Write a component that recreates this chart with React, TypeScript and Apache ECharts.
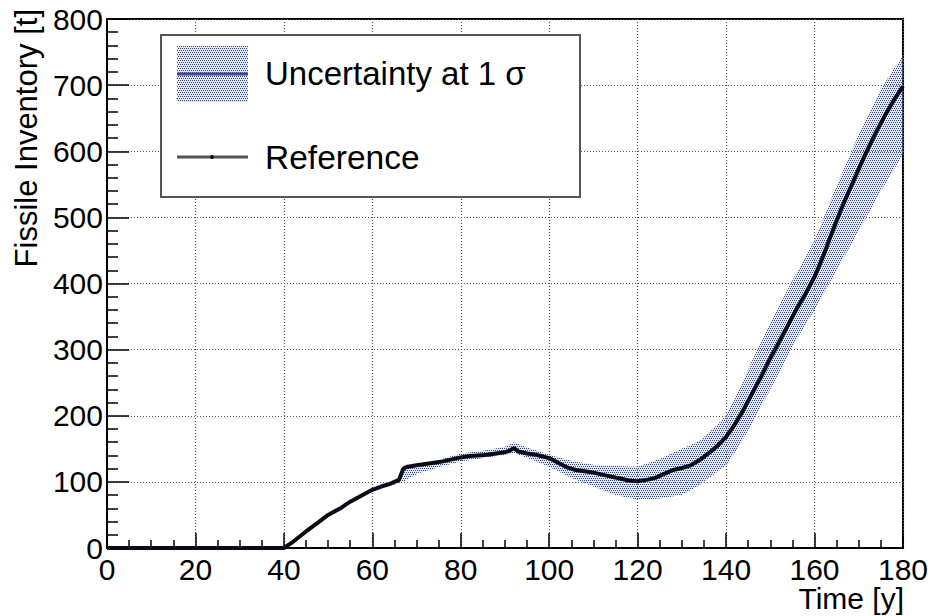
import React, { useEffect, useRef } from "react";
import * as echarts from "echarts";

// Reference curve (time in years, fissile inventory in tonnes)
const refTime = [0, 40, 42, 45, 48, 50, 53, 55, 58, 60, 62, 64, 65, 66, 67, 68, 70, 72, 74, 76, 78, 80, 82, 84, 86, 88, 90, 91, 92, 93, 95, 97, 100, 102, 104, 106, 108, 110, 112, 114, 116, 118, 120, 122, 124, 126, 128, 130, 132, 134, 136, 138, 140, 142, 144, 146, 148, 150, 152, 154, 156, 158, 160, 162, 164, 166, 168, 170, 172, 174, 176, 178, 180];
const refValue = [0, 0, 9, 25, 40, 50, 61, 70, 81, 88, 93, 97, 100, 103, 120, 123, 125, 127, 129, 131, 134, 137, 139, 140, 141, 143, 145, 147, 151, 146, 143, 141, 136, 129, 122, 118, 116, 114, 111, 108, 105, 102, 101, 103, 106, 112, 118, 121, 125, 133, 143, 154, 168, 187, 210, 235, 260, 287, 312, 337, 362, 385, 410, 442, 478, 512, 543, 573, 603, 630, 655, 678, 698];

// Uncertainty band at 1 sigma
const bandTime = [63, 65, 66, 67, 68, 70, 75, 80, 85, 90, 92, 95, 100, 105, 110, 115, 120, 125, 130, 134, 137, 140, 143, 146, 150, 155, 160, 165, 170, 175, 180];
const bandLow = [93, 96, 98, 100, 104, 112, 122, 131, 136, 141, 144, 136, 123, 106, 93, 80, 73, 75, 80, 95, 110, 125, 155, 190, 240, 305, 360, 420, 480, 540, 595];
const bandHigh = [96, 101, 104, 121, 124, 127, 133, 143, 147, 153, 160, 152, 141, 132, 126, 124, 123, 135, 150, 162, 180, 200, 240, 285, 340, 405, 465, 548, 625, 695, 745];

const xTicks = [0, 20, 40, 60, 80, 100, 120, 140, 160, 180];
const yTicks = [0, 100, 200, 300, 400, 500, 600, 700, 800];

const FONT = "Liberation Sans";

function makePattern(): any {
  const c = document.createElement("canvas");
  c.width = 4;
  c.height = 4;
  const ctx = c.getContext("2d");
  if (ctx) {
    ctx.fillStyle = "rgba(170,182,225,0.35)";
    ctx.fillRect(0, 0, 4, 4);
    ctx.fillStyle = "#34489a";
    ctx.fillRect(0, 0, 1, 1);
    ctx.fillRect(2, 0, 1, 1);
    ctx.fillRect(1, 2, 1, 1);
    ctx.fillRect(3, 2, 1, 1);
  }
  return { image: c.toDataURL(), repeat: "repeat" };
}

export default function App() {
  const ref = useRef<HTMLDivElement>(null);

  useEffect(() => {
    if (!ref.current) return;
    const chart = echarts.init(ref.current, null, { renderer: "svg" });
    const pattern = makePattern();

    const refData = refTime.map((t, i) => [t, refValue[i]]);
    const bandData = bandTime.map((t, i) => [t, bandLow[i], bandHigh[i]]);

    const option: any = {
      animation: false,
      backgroundColor: "#ffffff",
      grid: {
        left: 107,
        right: 26,
        top: 19,
        bottom: 68,
        show: true,
        borderColor: "#000",
        borderWidth: 2,
        backgroundColor: "transparent",
      },
      xAxis: {
        type: "value",
        min: xTicks[0],
        max: xTicks[xTicks.length - 1],
        interval: 20,
        axisLine: { show: true, onZero: false, lineStyle: { color: "#000", width: 2 } },
        axisTick: { show: true, inside: true, length: 15, lineStyle: { color: "#000", width: 1.5 } },
        minorTick: { show: true, splitNumber: 4, length: 8, lineStyle: { color: "#000", width: 1.5 } },
        axisLabel: { fontSize: 30, lineHeight: 24, color: "#000", fontFamily: FONT, margin: 9 },
        splitLine: { show: true, lineStyle: { color: "#555", type: [1, 2], width: 1.2 } },
      },
      yAxis: {
        type: "value",
        min: yTicks[0],
        max: yTicks[yTicks.length - 1],
        interval: 100,
        axisLine: { show: true, onZero: false, lineStyle: { color: "#000", width: 2 } },
        axisTick: { show: true, inside: true, length: 22, lineStyle: { color: "#000", width: 1.5 } },
        minorTick: { show: true, splitNumber: 5, length: 11, lineStyle: { color: "#000", width: 1.5 } },
        axisLabel: { fontSize: 30, lineHeight: 22, color: "#000", fontFamily: FONT, margin: 4 },
        splitLine: { show: true, lineStyle: { color: "#555", type: [1, 2], width: 1.2 } },
      },
      series: [
        {
          name: "Uncertainty at 1 σ",
          type: "custom",
          data: bandData,
          silent: true,
          z: 2,
          renderItem: (params: any, api: any) => {
            if (params.dataIndex !== 0) return null;
            const upper = bandTime.map((t, i) => api.coord([t, bandHigh[i]]));
            const lower = bandTime.map((t, i) => api.coord([t, bandLow[i]])).reverse();
            return {
              type: "polygon",
              shape: { points: upper.concat(lower) },
              style: { fill: pattern, stroke: null },
            };
          },
          encode: { x: 0, y: [1, 2] },
        },
        {
          name: "Reference",
          type: "line",
          data: refData,
          symbol: "none",
          lineStyle: { color: "#0b0b18", width: 4 },
          z: 3,
        },
      ],
      graphic: [
        {
          type: "rect",
          shape: { x: 161, y: 35, width: 419, height: 162 },
          style: { fill: "#fff", stroke: "#555", lineWidth: 2 },
          z: 10,
        },
        {
          type: "rect",
          shape: { x: 177, y: 46, width: 71, height: 56 },
          style: { fill: pattern },
          z: 11,
        },
        {
          type: "line",
          shape: { x1: 177, y1: 74, x2: 248, y2: 74 },
          style: { stroke: "#3b4a8a", lineWidth: 3 },
          z: 12,
        },
        {
          type: "text",
          x: 265,
          y: 73,
          style: { text: "Uncertainty at 1 σ", font: `33px '${FONT}'`, fill: "#000", textAlign: "left", textVerticalAlign: "middle" },
          z: 12,
        },
        {
          type: "line",
          shape: { x1: 177, y1: 157, x2: 248, y2: 157 },
          style: { stroke: "#555", lineWidth: 3 },
          z: 12,
        },
        {
          type: "circle",
          shape: { cx: 212, cy: 157, r: 2 },
          style: { fill: "#111" },
          z: 13,
        },
        {
          type: "text",
          x: 265,
          y: 157,
          style: { text: "Reference", font: `33.5px '${FONT}'`, fill: "#000", textAlign: "left", textVerticalAlign: "middle" },
          z: 12,
        },
        {
          type: "text",
          x: 904,
          y: 598,
          style: { text: "Time [y]", font: `30px '${FONT}'`, fill: "#000", textAlign: "right", textVerticalAlign: "middle" },
        },
        {
          type: "text",
          x: 26,
          y: 9,
          rotation: Math.PI / 2,
          style: { text: "Fissile Inventory [t]", font: `31px '${FONT}'`, fill: "#000", textAlign: "right", textVerticalAlign: "middle" },
        },
      ],
    };

    chart.setOption(option);
    return () => {
      chart.dispose();
    };
  }, []);

  return (
    <div
      ref={ref}
      style={{ position: "fixed", left: 0, top: 0, width: 931, height: 616, background: "#fff" }}
    />
  );
}
